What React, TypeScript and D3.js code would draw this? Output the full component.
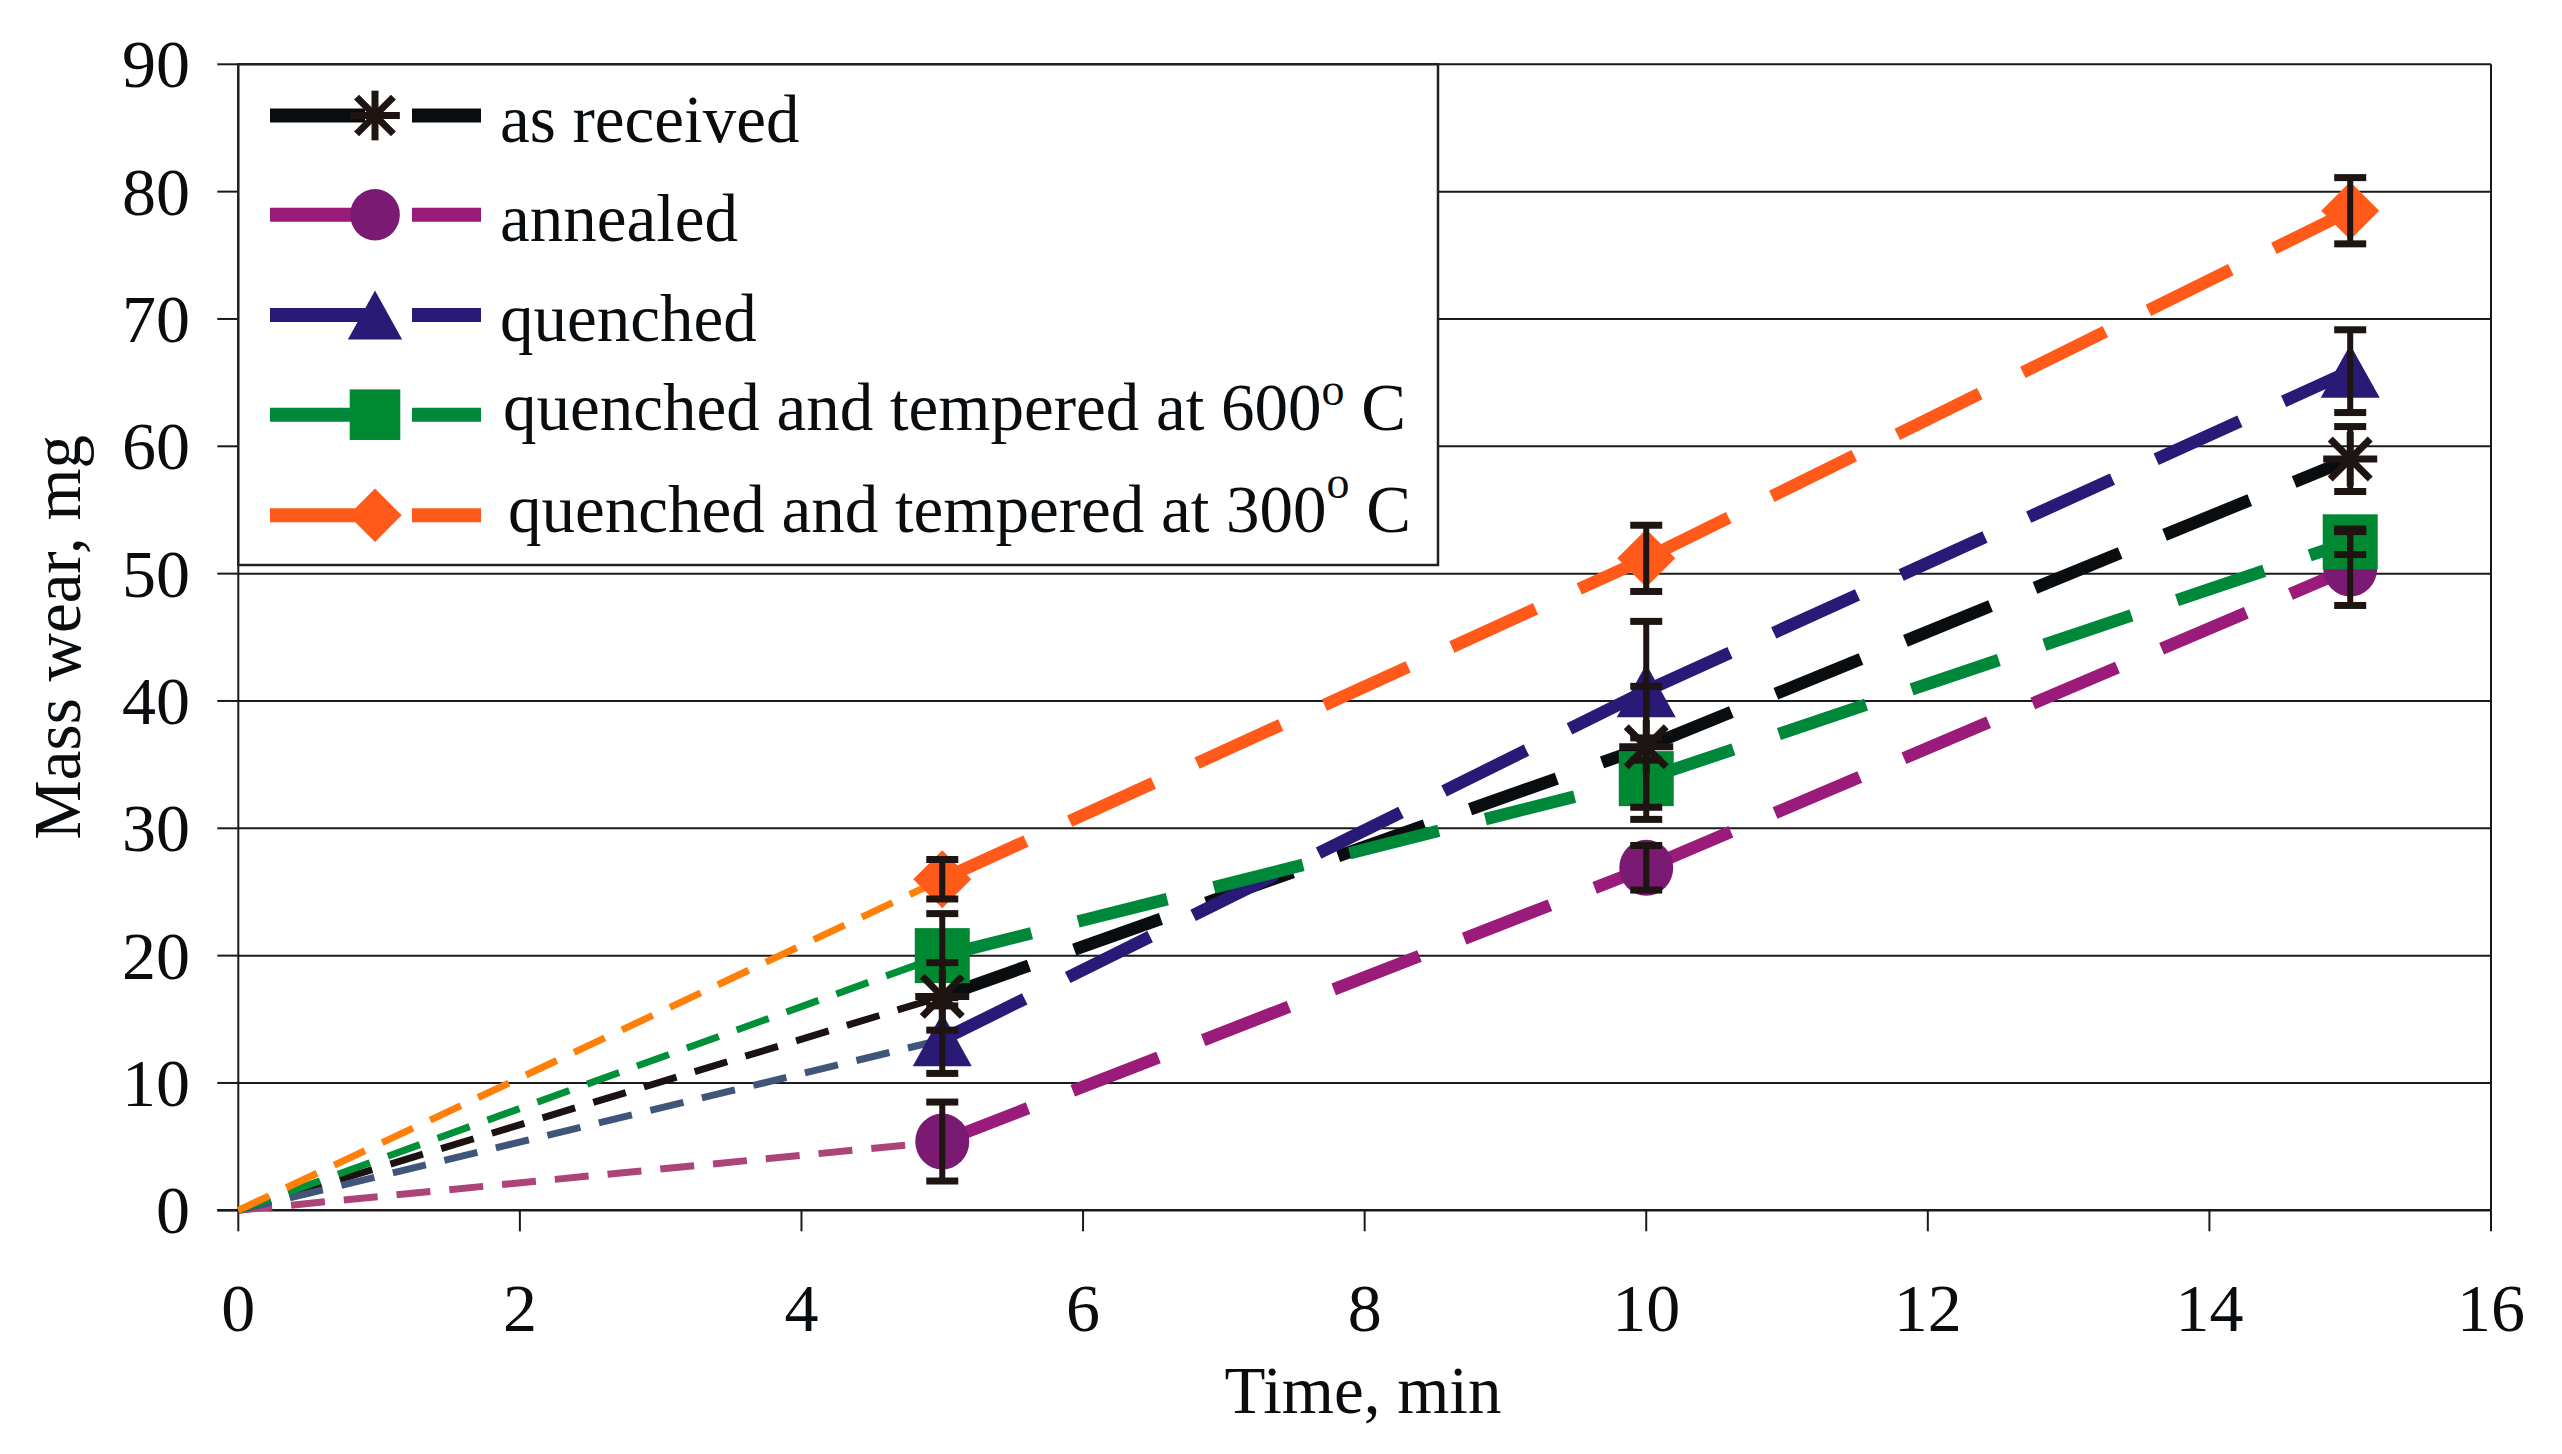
import React from 'react';
import * as d3 from 'd3';

// ---------- data ----------
const times = [0, 5, 10, 15];
const xTicks = [0, 2, 4, 6, 8, 10, 12, 14, 16];
const yTicks = [0, 10, 20, 30, 40, 50, 60, 70, 80, 90];

const seriesLabels = [
  'as received',
  'annealed',
  'quenched',
  'quenched and tempered at 600',
  'quenched and tempered at 300',
];

const asReceived = [0, 16.8, 36.4, 59.0];
const asReceivedErr = [0, 2.65, 4.75, 2.55];
const annealed = [0, 5.4, 26.9, 50.4];
const annealedErr = [0, 3.1, 1.75, 2.9];
const quenched = [0, 13.4, 40.8, 65.9];
const quenchedErr = [0, 2.65, 5.45, 3.25];
const qt600 = [0, 20.0, 33.9, 52.5];
const qt600Err = [0, 3.3, 3.2, 1.0];
const qt300 = [0, 26.0, 51.2, 78.5];
const qt300Err = [0, 1.55, 2.6, 2.6];

// ---------- styles ----------
type MarkerKind = 'star' | 'circle' | 'triangle' | 'square' | 'diamond';
const styles: { line: string; early: string; marker: string; kind: MarkerKind; sup?: string }[] = [
  { line: '#0A0D10', early: '#1C1212', marker: '#1E1412', kind: 'star' },
  { line: '#9B1B7A', early: '#AD4479', marker: '#7A1A72', kind: 'circle' },
  { line: '#291A78', early: '#3F5579', marker: '#281A75', kind: 'triangle' },
  { line: '#00883A', early: '#009038', marker: '#008833', kind: 'square', sup: 'o' },
  { line: '#FF5A1A', early: '#FF7F08', marker: '#FF5A1A', kind: 'diamond', sup: 'o' },
];
const values = [asReceived, annealed, quenched, qt600, qt300];
const errors = [asReceivedErr, annealedErr, quenchedErr, qt600Err, qt300Err];

const W = 2562;
const H = 1454;
const FONT = '"Liberation Serif", "Times New Roman", Times, serif';
const AX = '#1a1a1a';
const ERR = '#1E1412';

const x = d3.scaleLinear().domain([0, 16]).range([238.3, 2491]);
const y = d3.scaleLinear().domain([0, 90]).range([1210.3, 64.3]);

function Marker({ kind, cx, cy, color, s = 1 }: { kind: MarkerKind; cx: number; cy: number; color: string; s?: number }) {
  if (kind === 'circle') return <ellipse cx={cx} cy={cy} rx={27 * s} ry={28 * s} fill={color} />;
  if (kind === 'square') {
    const h = 27.5 * s;
    return <rect x={cx - h} y={cy - h} width={2 * h} height={2 * h} fill={color} />;
  }
  if (kind === 'diamond') {
    const h = 29 * s;
    return <polygon points={`${cx},${cy - h} ${cx + h},${cy} ${cx},${cy + h} ${cx - h},${cy}`} fill={color} />;
  }
  if (kind === 'triangle') {
    const hw = 29.5 * s;
    const hh = 26.5 * s;
    return <polygon points={`${cx},${cy - hh} ${cx + hw},${cy + hh} ${cx - hw},${cy + hh}`} fill={color} />;
  }
  const a = 27 * s;
  const d = 20 * s;
  return (
    <g stroke={color} strokeWidth={7} fill="none">
      <line x1={cx} y1={cy - a} x2={cx} y2={cy + a} />
      <line x1={cx - a} y1={cy} x2={cx + a} y2={cy} />
      <line x1={cx - d} y1={cy - d} x2={cx + d} y2={cy + d} />
      <line x1={cx - d} y1={cy + d} x2={cx + d} y2={cy - d} />
    </g>
  );
}

const lineGen = d3
  .line<[number, number]>()
  .x((d) => x(d[0]))
  .y((d) => y(d[1]));

export default function App() {
  const legendTop = y(90);
  const legendLeft = x(0);
  const legendRight = 1438;
  const legendBottom = 565;
  const rowY = [115.5, 214.7, 315, 414.7, 515.3];
  const textBase = [142, 241, 341, 430, 532];
  const textX = [500, 500, 500, 503, 508];
  const supRaise = [0, 0, 0, 25, 34];

  return (
    <svg
      width={W}
      height={H}
      viewBox={`0 0 ${W} ${H}`}
      style={{ position: 'absolute', left: 0, top: 0, background: '#fff' }}
      fontFamily={FONT}
    >
      <rect x={0} y={0} width={W} height={H} fill="#fff" />

      {/* gridlines */}
      {yTicks.filter((t) => t > 0).map((t) => (
        <line key={'g' + t} x1={x(0)} x2={x(16)} y1={y(t)} y2={y(t)} stroke={AX} strokeWidth={2} />
      ))}
      {/* right border */}
      <line x1={x(16)} x2={x(16)} y1={y(90)} y2={y(0)} stroke={AX} strokeWidth={2} />

      {/* axes */}
      <line x1={x(0)} x2={x(0)} y1={y(90)} y2={y(0)} stroke={AX} strokeWidth={2} />
      <line x1={x(0) - 21} x2={x(16)} y1={y(0)} y2={y(0)} stroke={AX} strokeWidth={2.6} />
      {yTicks.map((t) => (
        <g key={'yt' + t}>
          <line x1={x(0) - 21} x2={x(0)} y1={y(t)} y2={y(t)} stroke={AX} strokeWidth={2} />
          <text x={190} y={y(t) + 23} textAnchor="end" fontSize={68} fill="#0a0d10">
            {t}
          </text>
        </g>
      ))}
      {xTicks.map((t) => (
        <g key={'xt' + t}>
          <line x1={x(t)} x2={x(t)} y1={y(0)} y2={y(0) + 21} stroke={AX} strokeWidth={2} />
          <text x={x(t)} y={1331} textAnchor="middle" fontSize={68} fill="#0a0d10">
            {t}
          </text>
        </g>
      ))}

      {/* axis titles */}
      <text x={1363} y={1413} textAnchor="middle" fontSize={67} fill="#0a0d10">
        Time, min
      </text>
      <text
        transform={`translate(80, ${(y(0) + y(90)) / 2}) rotate(-90)`}
        textAnchor="middle"
        fontSize={67}
        fill="#0a0d10"
      >
        Mass wear, mg
      </text>

      {/* early short-dash segments (0 -> 5) */}
      {values.map((v, i) => (
        <path
          key={'e' + i}
          d={lineGen([[times[0], v[0]], [times[1], v[1]]]) || ''}
          fill="none"
          stroke={styles[i].early}
          strokeWidth={7}
          strokeDasharray="34 19"
        />
      ))}
      {/* long-dash segments */}
      {values.map((v, i) =>
        [1, 2].map((k) => (
          <path
            key={'l' + i + '_' + k}
            d={lineGen([[times[k], v[k]], [times[k + 1], v[k + 1]]]) || ''}
            fill="none"
            stroke={styles[i].line}
            strokeWidth={12.5}
            strokeDasharray="92 48"
          />
        ))
      )}

      {/* markers */}
      {[1, 2, 3, 4, 0].map((i) =>
        times.slice(1).map((t, k) => (
          <Marker key={'m' + i + '_' + k} kind={styles[i].kind} cx={x(t)} cy={y(values[i][k + 1])} color={styles[i].marker} />
        ))
      )}

      {/* error bars */}
      {values.map((v, i) =>
        times.slice(1).map((t, k) => {
          const val = v[k + 1];
          const e = errors[i][k + 1];
          const cx = x(t);
          const y1 = y(val + e);
          const y2 = y(val - e);
          return (
            <g key={'err' + i + '_' + k} fill={ERR}>
              <rect x={cx - 3} y={y1} width={6} height={y2 - y1} />
              <rect x={cx - 16} y={y1 - 3.5} width={32} height={7} />
              <rect x={cx - 16} y={y2 - 3.5} width={32} height={7} />
            </g>
          );
        })
      )}

      {/* legend */}
      <rect
        x={legendLeft}
        y={legendTop}
        width={legendRight - legendLeft}
        height={legendBottom - legendTop}
        fill="#fff"
        stroke="#222"
        strokeWidth={2.5}
      />
      {seriesLabels.map((lab, i) => (
        <g key={'lg' + i}>
          <line x1={270} x2={481} y1={rowY[i]} y2={rowY[i]} stroke={styles[i].line} strokeWidth={14} strokeDasharray="95 47" />
          <Marker kind={styles[i].kind} cx={375} cy={rowY[i]} color={styles[i].marker} s={0.92} />
          <text x={textX[i]} y={textBase[i]} fontSize={67} fill="#0a0d10">
            {lab}
            {styles[i].sup ? (
              <>
                <tspan fontSize={46} dy={-supRaise[i]}>
                  {styles[i].sup}
                </tspan>
                <tspan fontSize={67} dy={supRaise[i]}>
                  {' C'}
                </tspan>
              </>
            ) : null}
          </text>
        </g>
      ))}
    </svg>
  );
}
